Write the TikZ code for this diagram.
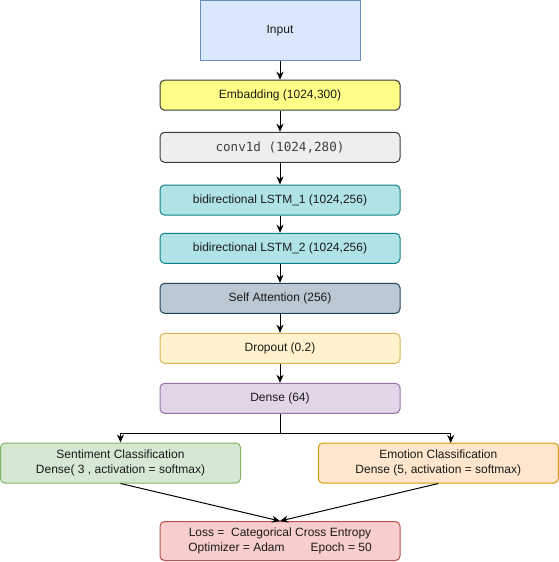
\documentclass[tikz,border=0pt]{standalone}
\usepackage{fontspec}
\setmainfont{Liberation Sans}
\newfontfamily\codefont{DejaVu Sans Mono}
\usetikzlibrary{arrows.meta}

\definecolor{inFill}{HTML}{DAE8FC}\definecolor{inLine}{HTML}{6C8EBF}
\definecolor{embFill}{HTML}{FFFF88}\definecolor{embLine}{HTML}{36393D}
\definecolor{cnvFill}{HTML}{EEEEEE}\definecolor{cnvLine}{HTML}{36393D}
\definecolor{lstmFill}{HTML}{B0E3E6}\definecolor{lstmLine}{HTML}{0E8088}
\definecolor{attFill}{HTML}{BAC8D3}\definecolor{attLine}{HTML}{23445D}
\definecolor{dropFill}{HTML}{FFF2CC}\definecolor{dropLine}{HTML}{D6B656}
\definecolor{denFill}{HTML}{E1D5E7}\definecolor{denLine}{HTML}{9673A6}
\definecolor{senFill}{HTML}{D5E8D4}\definecolor{senLine}{HTML}{82B366}
\definecolor{emoFill}{HTML}{FFE6CC}\definecolor{emoLine}{HTML}{D79B00}
\definecolor{lossFill}{HTML}{F8CECC}\definecolor{lossLine}{HTML}{B85450}
\definecolor{txt}{HTML}{1A1A1A}

\tikzset{
  layer/.style={draw, line width=1pt, rounded corners=4.5pt, inner sep=0pt,
    minimum width=240pt, minimum height=30pt, font=\fontsize{12}{15}\selectfont,
    text=txt, align=center},
  flow/.style={draw=black, line width=1pt,
    -{Stealth[length=8pt, width=7pt, inset=2.5pt]}},
}

\begin{document}
\begin{tikzpicture}[x=1pt, y=-1pt]
\useasboundingbox (0,0) rectangle (559,562);

% main stack
\node[layer, rounded corners=0pt, fill=inFill, draw=inLine, minimum width=160pt, minimum height=60pt] (input) at (280,30.3) {Input};
\node[layer, fill=embFill, draw=embLine] (emb) at (280,95.2) {Embadding (1024,300)};
\node[layer, fill=cnvFill, draw=cnvLine, text=black!75, font=\codefont\fontsize{12.6}{15}\selectfont] (conv) at (280,147.3) {conv1d (1024,280)};
\node[layer, fill=lstmFill, draw=lstmLine] (lstma) at (280,200) {bidirectional LSTM\_1 (1024,256)};
\node[layer, fill=lstmFill, draw=lstmLine] (lstmb) at (280,248.3) {bidirectional LSTM\_2 (1024,256)};
\node[layer, fill=attFill, draw=attLine] (att) at (280,298.3) {Self Attention (256)};
\node[layer, fill=dropFill, draw=dropLine] (drop) at (280,348.3) {Dropout (0.2)};
\node[layer, fill=denFill, draw=denLine] (dense) at (280,398.3) {Dense (64)};

% two output heads
\node[layer, fill=senFill, draw=senLine, minimum height=40pt] (sent) at (120.5,463) {Sentiment Classification\\Dense( 3 , activation = softmax)};
\node[layer, fill=emoFill, draw=emoLine, minimum height=40pt] (emo) at (438.3,463) {Emotion Classification\\Dense (5, activation = softmax)};

% training setup
\node[layer, fill=lossFill, draw=lossLine, minimum height=39pt] (loss) at (280,541) {Loss =\ \ Categorical Cross Entropy\\Optimizer = Adam\hspace{26pt}Epoch = 50};

% connectors
\draw[flow] (input) -- (emb);
\draw[flow] (emb) -- (conv);
\draw[flow] (conv) -- (lstma);
\draw[flow] (lstma) -- (lstmb);
\draw[flow] (lstmb) -- (att);
\draw[flow] (att) -- (drop);
\draw[flow] (drop) -- (dense);

\coordinate (split) at (280,433.3);
\coordinate (emoIn) at (450.7,443);
\draw[flow] (dense.south) -- (split) -| (sent.north);
\draw[flow] (split) -| (emoIn);

\draw[flow] (sent.south) -- (loss.north);
\draw[flow] (emo.south) -- (loss.north);
\end{tikzpicture}
\end{document}
